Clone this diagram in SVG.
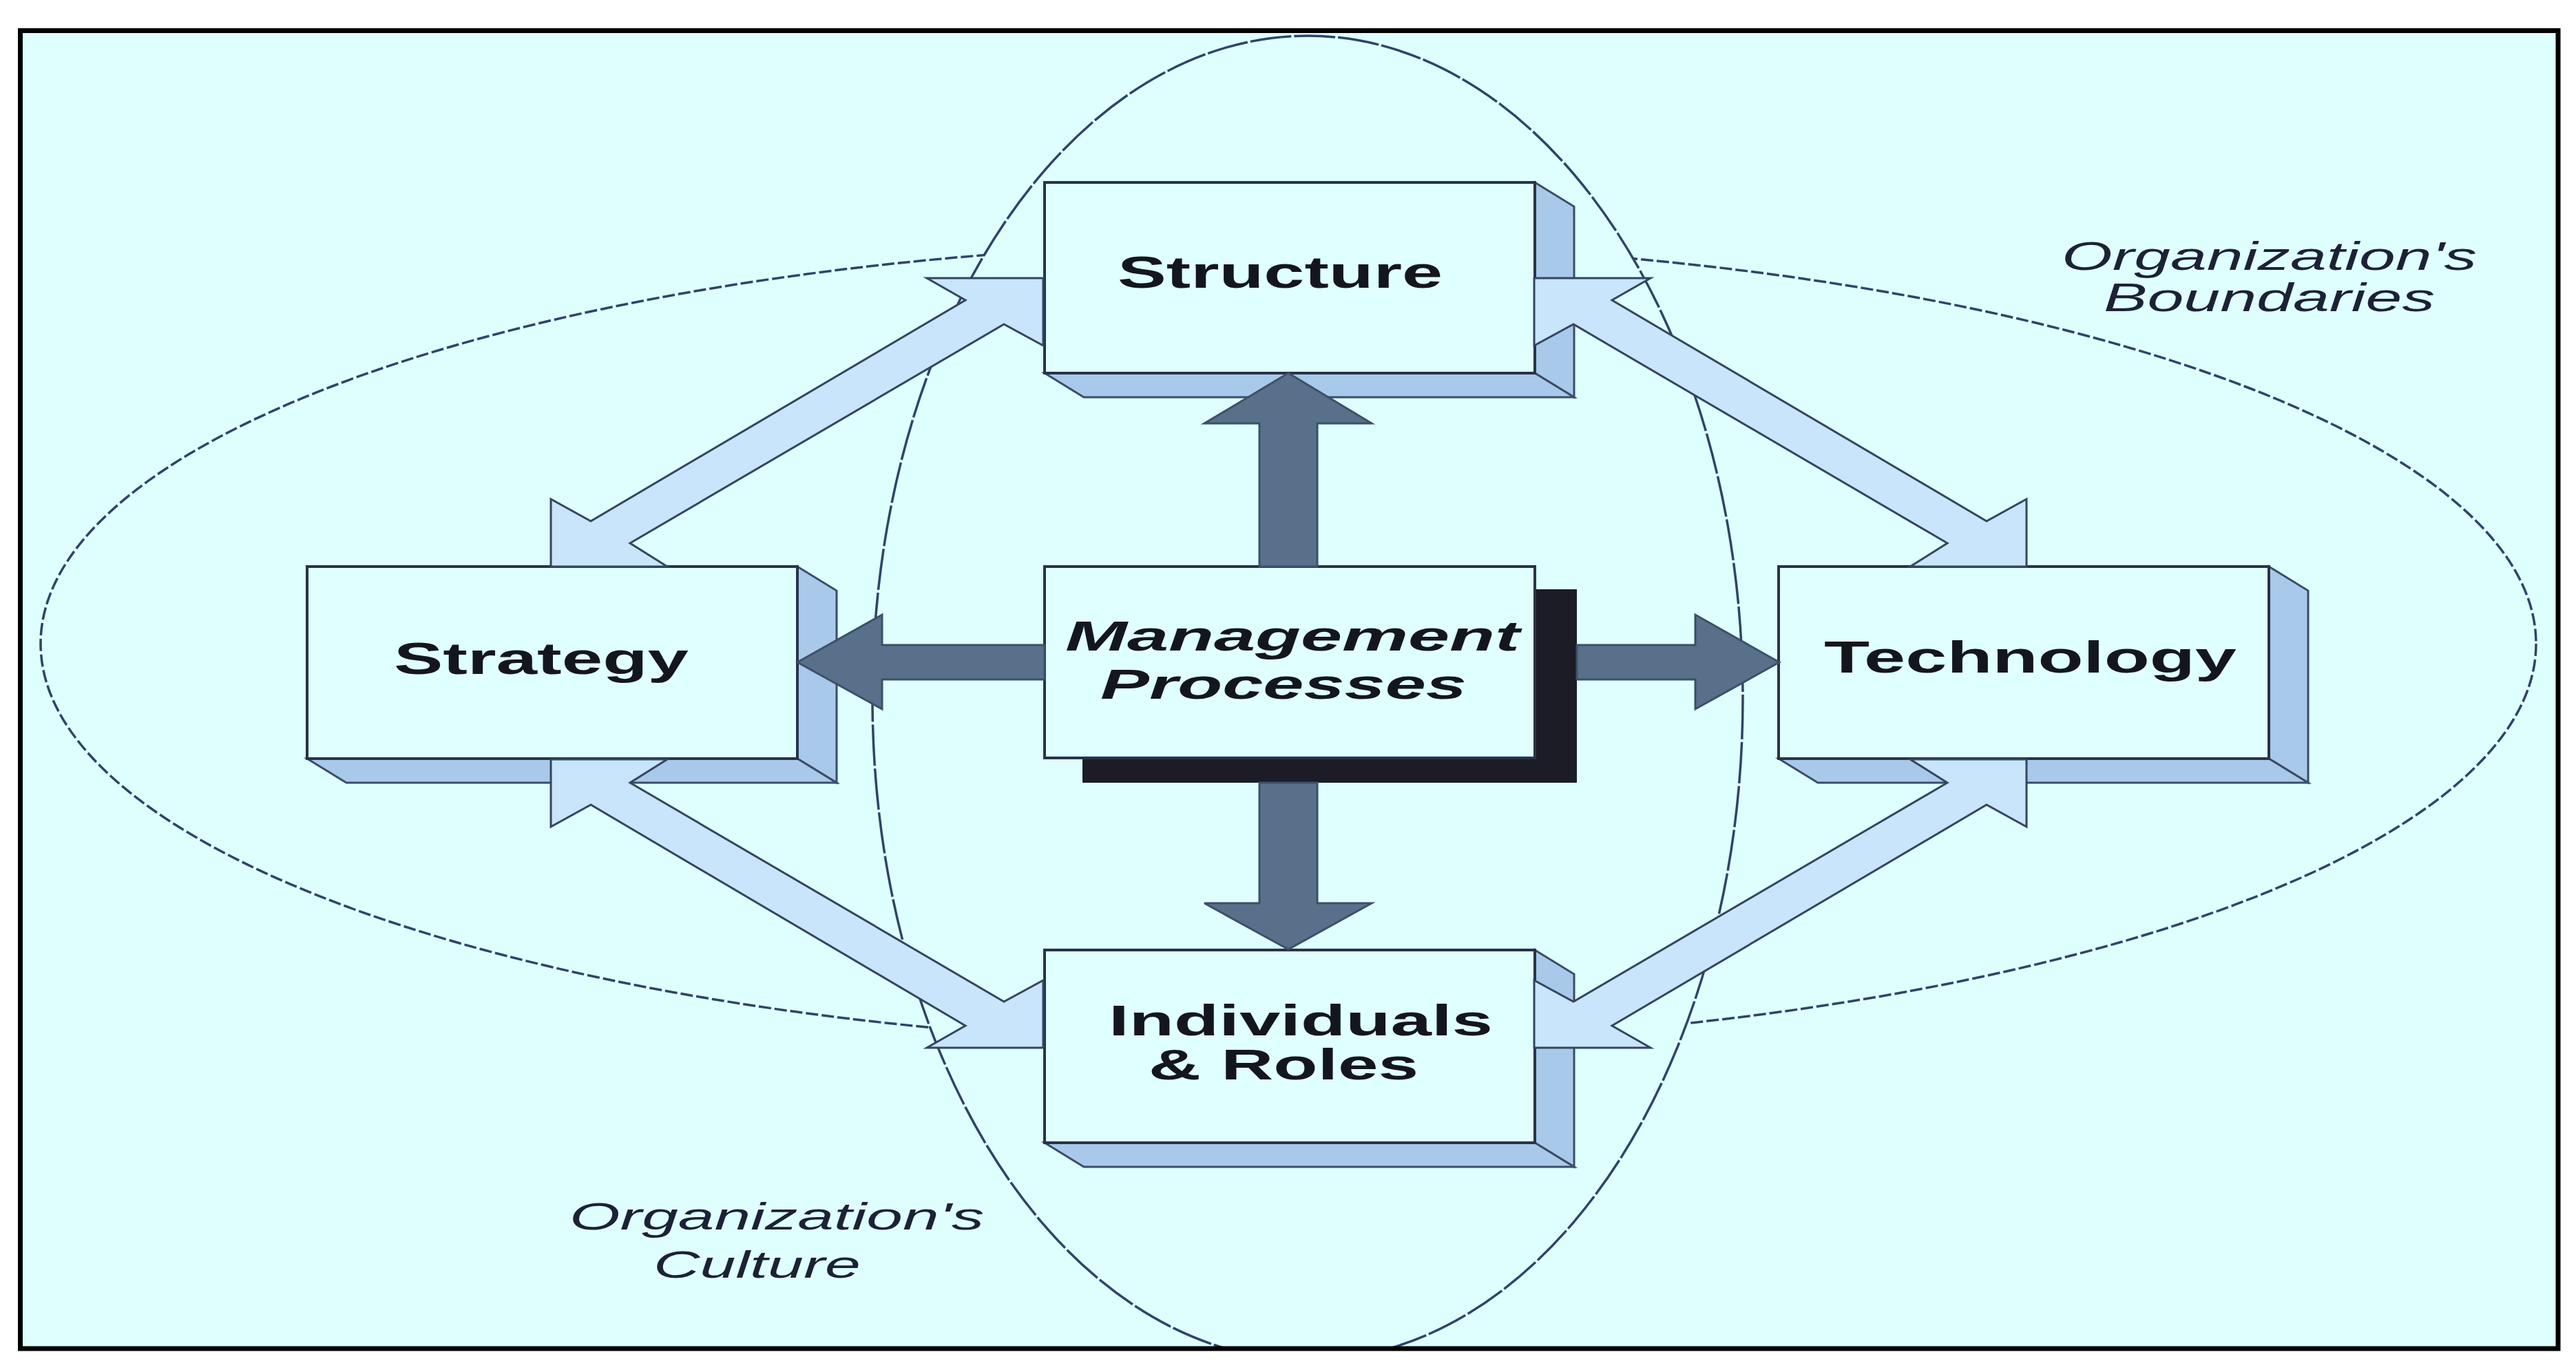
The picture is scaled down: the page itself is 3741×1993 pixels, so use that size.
<svg xmlns="http://www.w3.org/2000/svg" width="3741" height="1993" viewBox="0 0 3741 1993">
<style>
.bg{fill:#dfffff}
.ell{fill:none;stroke:#2f4468;stroke-width:3.5}
.front{fill:#e0ffff;stroke:#26344a;stroke-width:4}
.face{fill:#a9c9eb;stroke:#3a4d66;stroke-width:3;stroke-linejoin:miter}
.la{fill:#c9e5fb;stroke:#34465e;stroke-width:3;stroke-linejoin:miter}
.da{fill:#587089;stroke:#3e5068;stroke-width:3}
.lbl{font-family:"Liberation Sans",Arial,sans-serif;font-weight:bold;fill:#14161e}
.it{font-family:"Liberation Sans",Arial,sans-serif;font-style:italic;fill:#1c2236;font-size:56px}
</style>
<defs>
<clipPath id="inner"><rect x="33" y="48" width="3678" height="1909"/></clipPath>
</defs>
<rect x="0" y="0" width="3741" height="1993" fill="#ffffff"/>
<rect class="bg" x="29.5" y="44.5" width="3685.5" height="1914.5"/>
<g id="boundaries" clip-path="url(#inner)">
<ellipse class="ell" cx="1871" cy="935" rx="1812" ry="582" stroke-dasharray="18 5"/>
<ellipse class="ell" cx="1899" cy="1014" rx="632" ry="962" style="fill:#dfffff" stroke-dasharray="60 4"/>
</g>
<g id="labels">
<text class="it" x="2994" y="392" textLength="603" lengthAdjust="spacingAndGlyphs" style="font-size:57px">Organization's</text>
<text class="it" x="3055" y="452" textLength="481" lengthAdjust="spacingAndGlyphs" style="font-size:57px">Boundaries</text>
<text class="it" x="827" y="1786" textLength="602" lengthAdjust="spacingAndGlyphs">Organization's</text>
<text class="it" x="949" y="1856" textLength="301" lengthAdjust="spacingAndGlyphs">Culture</text>
</g>
<g id="structure">
<polygon class="face" points="2229,265 2286,300 2286,577 2229,542"/>
<polygon class="face" points="1517,542 1574,577 2286,577 2229,542"/>
<rect class="front" x="1517" y="265" width="712" height="277"/>
<text class="lbl" x="1623" y="418" font-size="64" textLength="472" lengthAdjust="spacingAndGlyphs">Structure</text>
</g>
<g id="strategy">
<polygon class="face" points="1158,823 1215,858 1215,1137 1158,1102"/>
<polygon class="face" points="446,1102 503,1137 1215,1137 1158,1102"/>
<rect class="front" x="446" y="823" width="712" height="279"/>
<text class="lbl" x="572" y="979" font-size="65" textLength="428" lengthAdjust="spacingAndGlyphs">Strategy</text>
</g>
<g id="technology">
<polygon class="face" points="3295,823 3352,858 3352,1137 3295,1102"/>
<polygon class="face" points="2583,1102 2640,1137 3352,1137 3295,1102"/>
<rect class="front" x="2583" y="823" width="712" height="279"/>
<text class="lbl" x="2649" y="977" font-size="64" textLength="599" lengthAdjust="spacingAndGlyphs">Technology</text>
</g>
<g id="individuals">
<polygon class="face" points="2229,1380 2286,1415 2286,1695 2229,1660"/>
<polygon class="face" points="1517,1660 1574,1695 2286,1695 2229,1660"/>
<rect class="front" x="1517" y="1380" width="712" height="280"/>
<text class="lbl" x="1610" y="1504" font-size="63" textLength="558" lengthAdjust="spacingAndGlyphs">Individuals</text>
<text class="lbl" x="1668" y="1568" font-size="63" textLength="392" lengthAdjust="spacingAndGlyphs">&amp; Roles</text>
</g>
<g id="management">
<rect x="1572" y="856" width="718" height="281" fill="#1b1c26"/>
<rect class="front" x="1517" y="823" width="712" height="278"/>
<text class="lbl" x="1547" y="945" font-size="61" font-style="italic" textLength="660" lengthAdjust="spacingAndGlyphs">Management</text>
<text class="lbl" x="1598" y="1015" font-size="61" font-style="italic" textLength="532" lengthAdjust="spacingAndGlyphs">Processes</text>
</g>
<g id="connectors">
<polygon class="la" points="1346,404 1515,404 1515,502 1458,471 915,789 969,823 800,823 800,725 858,757 1402,436"/>
<polygon class="la" points="2397,404 2228,404 2228,502 2285,471 2828,789 2774,823 2943,823 2943,725 2885,757 2341,436"/>
<polygon class="la" points="1346,1522 1515,1522 1515,1424 1458,1455 915,1137 969,1103 800,1103 800,1201 858,1169 1402,1490"/>
<polygon class="la" points="2397,1522 2228,1522 2228,1424 2285,1455 2828,1137 2774,1103 2943,1103 2943,1201 2885,1169 2341,1490"/>
<polygon class="da" points="1829,823 1829,615 1749,615 1871,542 1992,615 1913,615 1913,823"/>
<polygon class="da" points="1829,1137 1829,1312 1749,1312 1871,1379 1992,1312 1913,1312 1913,1137"/>
<polygon class="da" points="1517,937 1281,937 1281,893 1158,962 1281,1030 1281,987 1517,987"/>
<polygon class="da" points="2290,937 2462,937 2462,893 2584,962 2462,1030 2462,987 2290,987"/>
</g>
<rect x="29.5" y="44.5" width="3685.5" height="1914.5" fill="none" stroke="#000000" stroke-width="7"/>
</svg>
